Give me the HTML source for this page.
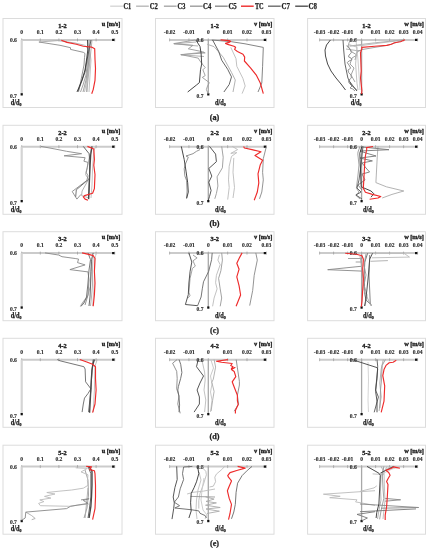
<!DOCTYPE html>
<html><head><meta charset="utf-8"><style>
html,body{margin:0;padding:0;background:#fff;}
svg{display:block;will-change:transform;}
text{font-family:"Liberation Serif",serif;fill:#222;stroke:#222;stroke-width:0.25px;}
.lg{font-size:7.5px;font-weight:bold;}
.tk{font-size:5.6px;font-weight:bold;text-anchor:middle;fill:#2a2a2a;stroke:#2a2a2a;stroke-width:0.12px;}
.yl{font-size:5.6px;font-weight:bold;text-anchor:end;fill:#2a2a2a;stroke:#2a2a2a;stroke-width:0.12px;}
.dl{font-size:7.2px;font-weight:bold;}
.sub{font-size:4.6px;}
.tt{font-size:6.3px;font-weight:bold;text-anchor:middle;stroke-width:0.35px;}
.un{font-size:6.3px;font-weight:bold;text-anchor:end;stroke-width:0.35px;}
.cap{font-size:8.2px;font-weight:bold;text-anchor:middle;}
</style></head><body>
<svg width="429" height="550" viewBox="0 0 429 550">
<rect x="0" y="0" width="429" height="550" fill="#fff"/>
<line x1="110.2" y1="6.2" x2="122.9" y2="6.2" stroke="#d6d6d6" stroke-width="1.4"/>
<text x="123.6" y="8.5" class="lg" textLength="7.6" lengthAdjust="spacingAndGlyphs">C1</text>
<line x1="136.1" y1="6.2" x2="148.79999999999998" y2="6.2" stroke="#b8b8b8" stroke-width="1.4"/>
<text x="149.8" y="8.5" class="lg" textLength="8.1" lengthAdjust="spacingAndGlyphs">C2</text>
<line x1="163.9" y1="6.2" x2="176.6" y2="6.2" stroke="#a8a8a8" stroke-width="1.4"/>
<text x="177.60000000000002" y="8.5" class="lg" textLength="7.8" lengthAdjust="spacingAndGlyphs">C3</text>
<line x1="190.0" y1="6.2" x2="202.7" y2="6.2" stroke="#9c9c9c" stroke-width="1.4"/>
<text x="203.10000000000002" y="8.5" class="lg" textLength="8.2" lengthAdjust="spacingAndGlyphs">C4</text>
<line x1="215.0" y1="6.2" x2="227.7" y2="6.2" stroke="#8c8c8c" stroke-width="1.4"/>
<text x="228.4" y="8.5" class="lg" textLength="8.4" lengthAdjust="spacingAndGlyphs">C5</text>
<line x1="241.0" y1="6.2" x2="253.7" y2="6.2" stroke="#ee2b2b" stroke-width="1.4"/>
<text x="254.9" y="8.5" class="lg" textLength="8.8" lengthAdjust="spacingAndGlyphs">TC</text>
<line x1="268.0" y1="6.2" x2="280.7" y2="6.2" stroke="#6a6a6a" stroke-width="1.4"/>
<text x="281.5" y="8.5" class="lg" textLength="8.4" lengthAdjust="spacingAndGlyphs">C7</text>
<line x1="295.2" y1="6.2" x2="307.9" y2="6.2" stroke="#505050" stroke-width="1.4"/>
<text x="308.5" y="8.5" class="lg" textLength="8.4" lengthAdjust="spacingAndGlyphs">C8</text>
<rect x="3.0" y="18.5" width="119.0" height="89.0" fill="none" stroke="#dcdcdc" stroke-width="1"/>
<line x1="21.70" y1="39.90" x2="114.70" y2="39.90" stroke="#cbcbcb" stroke-width="2"/>
<line x1="21.70" y1="38.40" x2="21.70" y2="41.40" stroke="#999" stroke-width="0.7"/>
<text x="21.70" y="34.10" class="tk">0</text>
<line x1="40.30" y1="38.40" x2="40.30" y2="41.40" stroke="#999" stroke-width="0.7"/>
<text x="40.30" y="34.10" class="tk">0.1</text>
<line x1="58.90" y1="38.40" x2="58.90" y2="41.40" stroke="#999" stroke-width="0.7"/>
<text x="58.90" y="34.10" class="tk">0.2</text>
<line x1="77.50" y1="38.40" x2="77.50" y2="41.40" stroke="#999" stroke-width="0.7"/>
<text x="77.50" y="34.10" class="tk">0.3</text>
<line x1="96.10" y1="38.40" x2="96.10" y2="41.40" stroke="#999" stroke-width="0.7"/>
<text x="96.10" y="34.10" class="tk">0.4</text>
<line x1="114.70" y1="38.40" x2="114.70" y2="41.40" stroke="#999" stroke-width="0.7"/>
<text x="114.70" y="34.10" class="tk">0.5</text>
<rect x="112.10" y="38.80" width="2.3" height="2.2" fill="#111"/>
<line x1="21.70" y1="39.90" x2="21.70" y2="94.20" stroke="#d4d4d4" stroke-width="2.2"/>
<rect x="20.60" y="93.20" width="2.2" height="2.3" fill="#111"/>
<text x="16.90" y="41.90" class="yl">0.6</text>
<text x="16.90" y="97.70" class="yl">0.7</text>
<text x="10.80" y="104.70" class="dl" textLength="10.8" lengthAdjust="spacingAndGlyphs">d/d<tspan class="sub" dy="1.0">0</tspan></text>
<text x="62.50" y="27.90" class="tt">1-2</text>
<text x="120.40" y="26.00" class="un">u [m/s]</text>
<polyline points="38.9,42 58,40.6 75,43 84.5,45.3 88,48 88.5,60 87.5,75 86.5,92" fill="none" stroke="#aaaaaa" stroke-width="0.9" stroke-linejoin="round"/>
<polyline points="89,40 88.5,50 87.5,62 86,75 83,85 80.5,92" fill="none" stroke="#9a9a9a" stroke-width="0.9" stroke-linejoin="round"/>
<polyline points="88,45 89.5,58 88.5,72 86,84 84.5,92" fill="none" stroke="#b5b5b5" stroke-width="0.9" stroke-linejoin="round"/>
<polyline points="89,45 91,60 90,75 89,92" fill="none" stroke="#bbbbbb" stroke-width="0.9" stroke-linejoin="round"/>
<polyline points="92,40 90.5,55 89,70 87.5,85 87,92" fill="none" stroke="#aaaaaa" stroke-width="0.9" stroke-linejoin="round"/>
<polyline points="38.9,42 60,45.3 70.5,47.7 70.5,49.4 83.3,52.3 85,53.5 84.5,57.6 84,65 82,75 80,85 78.5,92" fill="none" stroke="#8a8a8a" stroke-width="0.9" stroke-linejoin="round"/>
<polyline points="90,40 89,60 86,80 83,92" fill="none" stroke="#999999" stroke-width="0.9" stroke-linejoin="round"/>
<polyline points="91,40 89,50 87,60 85,72 80,86 78,91" fill="none" stroke="#555555" stroke-width="0.9" stroke-linejoin="round"/>
<polyline points="87.5,40 87.8,50 86.5,60 85,70 82,80 77,92" fill="none" stroke="#333333" stroke-width="0.9" stroke-linejoin="round"/>
<polyline points="61.3,40.2 67,42.4 76.3,44.2 83.3,46.3 91.5,47.1 94.7,48.8 95,59.3 95.5,68.6 95,80.3 93.2,89.6 91.7,93.7" fill="none" stroke="#ee2b2b" stroke-width="1.15" stroke-linejoin="round"/>
<rect x="155.5" y="18.5" width="118.5" height="89.0" fill="none" stroke="#dcdcdc" stroke-width="1"/>
<line x1="169.60" y1="39.90" x2="266.35" y2="39.90" stroke="#cbcbcb" stroke-width="2"/>
<line x1="169.60" y1="38.40" x2="169.60" y2="41.40" stroke="#999" stroke-width="0.7"/>
<text x="169.60" y="34.10" class="tk">-0.02</text>
<line x1="188.95" y1="38.40" x2="188.95" y2="41.40" stroke="#999" stroke-width="0.7"/>
<text x="188.95" y="34.10" class="tk">-0.01</text>
<line x1="208.30" y1="38.40" x2="208.30" y2="41.40" stroke="#999" stroke-width="0.7"/>
<text x="208.30" y="34.10" class="tk">0</text>
<line x1="227.65" y1="38.40" x2="227.65" y2="41.40" stroke="#999" stroke-width="0.7"/>
<text x="227.65" y="34.10" class="tk">0.01</text>
<line x1="247.00" y1="38.40" x2="247.00" y2="41.40" stroke="#999" stroke-width="0.7"/>
<text x="247.00" y="34.10" class="tk">0.02</text>
<line x1="266.35" y1="38.40" x2="266.35" y2="41.40" stroke="#999" stroke-width="0.7"/>
<text x="266.35" y="34.10" class="tk">0.03</text>
<rect x="263.75" y="38.80" width="2.3" height="2.2" fill="#111"/>
<line x1="208.30" y1="39.90" x2="208.30" y2="94.20" stroke="#a8a8a8" stroke-width="1.3"/>
<rect x="207.20" y="93.20" width="2.2" height="2.3" fill="#111"/>
<text x="203.50" y="41.90" class="yl">0.6</text>
<text x="203.50" y="97.70" class="yl">0.7</text>
<text x="215.00" y="104.70" class="dl" textLength="10.8" lengthAdjust="spacingAndGlyphs">d/d<tspan class="sub" dy="1.0">0</tspan></text>
<text x="214.75" y="27.90" class="tt">1-2</text>
<text x="272.40" y="26.00" class="un">v [m/s]</text>
<polyline points="196,42 174,43.8 198,46" fill="none" stroke="#aaaaaa" stroke-width="0.9" stroke-linejoin="round"/>
<polyline points="204,52 181,54.8 204,56.5" fill="none" stroke="#aaaaaa" stroke-width="0.9" stroke-linejoin="round"/>
<polyline points="230.8,47.4 236,58.7 236.8,66.3 242.9,78.4 245.2,86 242.1,93.6" fill="none" stroke="#bbbbbb" stroke-width="0.9" stroke-linejoin="round"/>
<polyline points="207.3,44.3 214,46.6 223.2,57.2 231.5,72.4 235.3,80 233,92" fill="none" stroke="#aaaaaa" stroke-width="0.9" stroke-linejoin="round"/>
<polyline points="195.3,40 173.7,43.6 193,45.3 188.3,48.8 200,51.2 205.2,52.9 180.7,54.6 198.2,58.1 200,61 202.3,64 205.2,67.5 202.9,69.8 205.2,75.6 202.3,77.4 209.3,82.6 207.5,86.1 206.4,89.6 208.3,94" fill="none" stroke="#999999" stroke-width="0.9" stroke-linejoin="round"/>
<polyline points="211.8,40 231.4,41.7 245,43.8 263.3,47.4 262.6,66.3 261.8,83 258,92" fill="none" stroke="#777777" stroke-width="0.9" stroke-linejoin="round"/>
<polyline points="212.6,40 218.6,51.2 221.7,60.2 227.7,69.3 231.5,76.9 229.2,84.5 223.9,92" fill="none" stroke="#555555" stroke-width="0.9" stroke-linejoin="round"/>
<polyline points="195.9,40.1 200,46.5 201.1,53.5 201.7,64 200.5,69.8 199.4,82.6 196.5,85 187.7,92" fill="none" stroke="#333333" stroke-width="0.9" stroke-linejoin="round"/>
<polyline points="220.6,39.9 229,40.6 230.7,41.3 229,42.4 225.5,43.4 226.9,44.1 233.9,46.2 235.6,47.3 234.6,49.4 237.4,51.5 243,54.3 244.7,57.1 244.4,61 250.5,67.8 256.5,75.4 260.3,83 263.3,93.6" fill="none" stroke="#ee2b2b" stroke-width="1.15" stroke-linejoin="round"/>
<rect x="307.6" y="18.5" width="117.9" height="89.0" fill="none" stroke="#dcdcdc" stroke-width="1"/>
<line x1="319.60" y1="39.90" x2="417.60" y2="39.90" stroke="#cbcbcb" stroke-width="2"/>
<line x1="319.60" y1="38.40" x2="319.60" y2="41.40" stroke="#999" stroke-width="0.7"/>
<text x="319.60" y="34.10" class="tk">-0.03</text>
<line x1="333.60" y1="38.40" x2="333.60" y2="41.40" stroke="#999" stroke-width="0.7"/>
<text x="333.60" y="34.10" class="tk">-0.02</text>
<line x1="347.60" y1="38.40" x2="347.60" y2="41.40" stroke="#999" stroke-width="0.7"/>
<text x="347.60" y="34.10" class="tk">-0.01</text>
<line x1="361.60" y1="38.40" x2="361.60" y2="41.40" stroke="#999" stroke-width="0.7"/>
<text x="361.60" y="34.10" class="tk">0</text>
<line x1="375.60" y1="38.40" x2="375.60" y2="41.40" stroke="#999" stroke-width="0.7"/>
<text x="375.60" y="34.10" class="tk">0.01</text>
<line x1="389.60" y1="38.40" x2="389.60" y2="41.40" stroke="#999" stroke-width="0.7"/>
<text x="389.60" y="34.10" class="tk">0.02</text>
<line x1="403.60" y1="38.40" x2="403.60" y2="41.40" stroke="#999" stroke-width="0.7"/>
<text x="403.60" y="34.10" class="tk">0.03</text>
<line x1="417.60" y1="38.40" x2="417.60" y2="41.40" stroke="#999" stroke-width="0.7"/>
<text x="417.60" y="34.10" class="tk">0.04</text>
<rect x="415.00" y="38.80" width="2.3" height="2.2" fill="#111"/>
<line x1="361.60" y1="39.90" x2="361.60" y2="94.20" stroke="#a8a8a8" stroke-width="1.3"/>
<rect x="360.50" y="93.20" width="2.2" height="2.3" fill="#111"/>
<text x="356.80" y="41.90" class="yl">0.6</text>
<text x="356.80" y="97.70" class="yl">0.7</text>
<text x="350.70" y="104.70" class="dl" textLength="10.8" lengthAdjust="spacingAndGlyphs">d/d<tspan class="sub" dy="1.0">0</tspan></text>
<text x="366.55" y="27.90" class="tt">1-2</text>
<text x="423.90" y="26.00" class="un">w [m/s]</text>
<polyline points="356,40 357,50 358,60 359,75 360,90" fill="none" stroke="#c8c8c8" stroke-width="0.9" stroke-linejoin="round"/>
<polyline points="347,46 362,45.5 380,43 404,40" fill="none" stroke="#bbbbbb" stroke-width="0.9" stroke-linejoin="round"/>
<polyline points="346,49 356,50.5 362,50.5" fill="none" stroke="#aaaaaa" stroke-width="0.9" stroke-linejoin="round"/>
<polyline points="350,40 348,46 352,52 357,55 352,58 350,64 354,68 351,75 355,82" fill="none" stroke="#999999" stroke-width="0.9" stroke-linejoin="round"/>
<polyline points="403.5,39.8 389.8,41.3 374.7,42.8 362.6,44.3 350,46" fill="none" stroke="#aaaaaa" stroke-width="0.9" stroke-linejoin="round"/>
<polyline points="404,40 388.3,45.1 361.8,49.6 357,52 355,60" fill="none" stroke="#999999" stroke-width="0.9" stroke-linejoin="round"/>
<polyline points="348.6,44.4 357,47.2 355.6,64 357,83.6 358,90" fill="none" stroke="#bbbbbb" stroke-width="0.9" stroke-linejoin="round"/>
<polyline points="346.5,45.8 350,49 351.4,52.8 349,55 348.6,57 351,58 352,59.8 349,61 347.2,62.6 349,65 350.7,68.2 348,70 348.6,72.4 351,75 351.4,78 349,80 348.6,82 350,84 352,86 350,88 352.8,89 355,91" fill="none" stroke="#888888" stroke-width="0.9" stroke-linejoin="round"/>
<polyline points="350,82 353,86 357,91" fill="none" stroke="#555555" stroke-width="0.9" stroke-linejoin="round"/>
<polyline points="343,40 343.7,50 345,64 347.9,78 351.4,85 357,90.5" fill="none" stroke="#555555" stroke-width="0.9" stroke-linejoin="round"/>
<polyline points="330.4,40 326.5,45 325,50 325.5,56 327.6,64 331,71 336,78 341,84 345.5,90" fill="none" stroke="#333333" stroke-width="0.9" stroke-linejoin="round"/>
<polyline points="405,39.8 400.5,41.8 394.4,42.8 391.4,44.3 386.8,45.4 374.7,46.3 361.8,47.4 361.9,48.6 360.5,52.8 361.2,71 360.5,78 361.9,90.5 361.6,94" fill="none" stroke="#ee2b2b" stroke-width="1.15" stroke-linejoin="round"/>
<text x="214.5" y="119.50" class="cap">(a)</text>
<rect x="3.0" y="125.3" width="119.0" height="89.0" fill="none" stroke="#dcdcdc" stroke-width="1"/>
<line x1="21.70" y1="146.70" x2="114.70" y2="146.70" stroke="#cbcbcb" stroke-width="2"/>
<line x1="21.70" y1="145.20" x2="21.70" y2="148.20" stroke="#999" stroke-width="0.7"/>
<text x="21.70" y="140.90" class="tk">0</text>
<line x1="40.30" y1="145.20" x2="40.30" y2="148.20" stroke="#999" stroke-width="0.7"/>
<text x="40.30" y="140.90" class="tk">0.1</text>
<line x1="58.90" y1="145.20" x2="58.90" y2="148.20" stroke="#999" stroke-width="0.7"/>
<text x="58.90" y="140.90" class="tk">0.2</text>
<line x1="77.50" y1="145.20" x2="77.50" y2="148.20" stroke="#999" stroke-width="0.7"/>
<text x="77.50" y="140.90" class="tk">0.3</text>
<line x1="96.10" y1="145.20" x2="96.10" y2="148.20" stroke="#999" stroke-width="0.7"/>
<text x="96.10" y="140.90" class="tk">0.4</text>
<line x1="114.70" y1="145.20" x2="114.70" y2="148.20" stroke="#999" stroke-width="0.7"/>
<text x="114.70" y="140.90" class="tk">0.5</text>
<rect x="112.10" y="145.60" width="2.3" height="2.2" fill="#111"/>
<line x1="21.70" y1="146.70" x2="21.70" y2="201.00" stroke="#d4d4d4" stroke-width="2.2"/>
<rect x="20.60" y="200.00" width="2.2" height="2.3" fill="#111"/>
<text x="16.90" y="148.70" class="yl">0.6</text>
<text x="16.90" y="204.50" class="yl">0.7</text>
<text x="10.80" y="211.50" class="dl" textLength="10.8" lengthAdjust="spacingAndGlyphs">d/d<tspan class="sub" dy="1.0">0</tspan></text>
<text x="62.50" y="134.70" class="tt">2-2</text>
<text x="120.40" y="132.80" class="un">u [m/s]</text>
<polyline points="96.1,146.4 93.8,150 92.5,170 92,185 91,198" fill="none" stroke="#bbbbbb" stroke-width="0.9" stroke-linejoin="round"/>
<polyline points="91.5,148 86.8,168.8 85.6,174.6 88.6,179.3 82.1,191 81.6,195.6 89.1,198" fill="none" stroke="#aaaaaa" stroke-width="0.9" stroke-linejoin="round"/>
<polyline points="41,146.4 55,149 66.6,151.3 81.6,153.7 64.1,155.8 85.1,157.7 83.9,161.2 88,162.4 87.4,167.6 86.2,172.3 88,175.8 86.8,180.5 72.2,191.5 76.9,199.1 81,194.4" fill="none" stroke="#8a8a8a" stroke-width="0.9" stroke-linejoin="round"/>
<polyline points="88.6,179.3 76.3,189.8 75.7,196.8" fill="none" stroke="#666666" stroke-width="0.9" stroke-linejoin="round"/>
<polyline points="83.3,146.4 89.1,153.7 89.7,160 89.5,175 89,190 88.5,199" fill="none" stroke="#555555" stroke-width="0.9" stroke-linejoin="round"/>
<polyline points="92,146.4 90.7,155 90.1,165.3 89.6,177 89.1,188.6 88.6,199.1" fill="none" stroke="#484848" stroke-width="1.35" stroke-linejoin="round"/>
<polyline points="87.4,146.4 93.8,149 94.4,159.5 93.8,165.3 95,174.6 94.4,188.6 92.6,193.3 84.5,195.6 83.3,196.8 85.1,199.1 88,200.3" fill="none" stroke="#ee2b2b" stroke-width="1.15" stroke-linejoin="round"/>
<rect x="155.5" y="125.3" width="118.5" height="89.0" fill="none" stroke="#dcdcdc" stroke-width="1"/>
<line x1="169.60" y1="146.70" x2="266.35" y2="146.70" stroke="#cbcbcb" stroke-width="2"/>
<line x1="169.60" y1="145.20" x2="169.60" y2="148.20" stroke="#999" stroke-width="0.7"/>
<text x="169.60" y="140.90" class="tk">-0.02</text>
<line x1="188.95" y1="145.20" x2="188.95" y2="148.20" stroke="#999" stroke-width="0.7"/>
<text x="188.95" y="140.90" class="tk">-0.01</text>
<line x1="208.30" y1="145.20" x2="208.30" y2="148.20" stroke="#999" stroke-width="0.7"/>
<text x="208.30" y="140.90" class="tk">0</text>
<line x1="227.65" y1="145.20" x2="227.65" y2="148.20" stroke="#999" stroke-width="0.7"/>
<text x="227.65" y="140.90" class="tk">0.01</text>
<line x1="247.00" y1="145.20" x2="247.00" y2="148.20" stroke="#999" stroke-width="0.7"/>
<text x="247.00" y="140.90" class="tk">0.02</text>
<line x1="266.35" y1="145.20" x2="266.35" y2="148.20" stroke="#999" stroke-width="0.7"/>
<text x="266.35" y="140.90" class="tk">0.03</text>
<rect x="263.75" y="145.60" width="2.3" height="2.2" fill="#111"/>
<line x1="208.30" y1="146.70" x2="208.30" y2="201.00" stroke="#a8a8a8" stroke-width="1.3"/>
<rect x="207.20" y="200.00" width="2.2" height="2.3" fill="#111"/>
<text x="203.50" y="148.70" class="yl">0.6</text>
<text x="203.50" y="204.50" class="yl">0.7</text>
<text x="215.00" y="211.50" class="dl" textLength="10.8" lengthAdjust="spacingAndGlyphs">d/d<tspan class="sub" dy="1.0">0</tspan></text>
<text x="214.75" y="134.70" class="tt">2-2</text>
<text x="272.40" y="132.80" class="un">v [m/s]</text>
<polyline points="232.3,146.4 237.6,149.6 230.8,153.4 236.8,152.6 231.5,156.4 229.2,166.2 228.5,179.9 229.2,187.5 227.7,199.6" fill="none" stroke="#bbbbbb" stroke-width="0.9" stroke-linejoin="round"/>
<polyline points="233.8,157.9 233,172.3 234.5,187.5 233,198" fill="none" stroke="#bbbbbb" stroke-width="0.9" stroke-linejoin="round"/>
<polyline points="221.7,146.4 223.2,157.2 222.4,167.8 217.1,176.8 217.9,186 216.4,193.5 214.8,198.8" fill="none" stroke="#999999" stroke-width="0.9" stroke-linejoin="round"/>
<polyline points="200,149.6 196.5,151.3 193,153.7 186,156 188.3,157.2 185.4,164.1 184.2,168.8 184.8,175.8 186.6,180.5 187.1,191 186.6,198" fill="none" stroke="#888888" stroke-width="0.9" stroke-linejoin="round"/>
<polyline points="266.4,146.4 263.3,158.7 262.6,172.3 263.3,179.9 261.8,192 259.5,198.8" fill="none" stroke="#888888" stroke-width="0.9" stroke-linejoin="round"/>
<polyline points="209.5,146.4 215.6,154.1 216.4,161.7 208.8,168.5 211.8,176.1 208.8,182.2 211.1,190.5 209.5,196.5 208.4,200" fill="none" stroke="#444444" stroke-width="0.9" stroke-linejoin="round"/>
<polyline points="181.3,146.4 184.2,159.5 186,171.1 187.7,182.8 188.3,192.1 186.6,198.5" fill="none" stroke="#333333" stroke-width="0.9" stroke-linejoin="round"/>
<polyline points="243.6,146.4 244.4,148 252,149.6 261,151.8 255,155.6 262.6,160.2 260.3,164.7 258,173.8 258.8,182.9 257.3,192 254.2,200.3" fill="none" stroke="#ee2b2b" stroke-width="1.15" stroke-linejoin="round"/>
<rect x="307.6" y="125.3" width="117.9" height="89.0" fill="none" stroke="#dcdcdc" stroke-width="1"/>
<line x1="319.60" y1="146.70" x2="417.60" y2="146.70" stroke="#cbcbcb" stroke-width="2"/>
<line x1="319.60" y1="145.20" x2="319.60" y2="148.20" stroke="#999" stroke-width="0.7"/>
<text x="319.60" y="140.90" class="tk">-0.03</text>
<line x1="333.60" y1="145.20" x2="333.60" y2="148.20" stroke="#999" stroke-width="0.7"/>
<text x="333.60" y="140.90" class="tk">-0.02</text>
<line x1="347.60" y1="145.20" x2="347.60" y2="148.20" stroke="#999" stroke-width="0.7"/>
<text x="347.60" y="140.90" class="tk">-0.01</text>
<line x1="361.60" y1="145.20" x2="361.60" y2="148.20" stroke="#999" stroke-width="0.7"/>
<text x="361.60" y="140.90" class="tk">0</text>
<line x1="375.60" y1="145.20" x2="375.60" y2="148.20" stroke="#999" stroke-width="0.7"/>
<text x="375.60" y="140.90" class="tk">0.01</text>
<line x1="389.60" y1="145.20" x2="389.60" y2="148.20" stroke="#999" stroke-width="0.7"/>
<text x="389.60" y="140.90" class="tk">0.02</text>
<line x1="403.60" y1="145.20" x2="403.60" y2="148.20" stroke="#999" stroke-width="0.7"/>
<text x="403.60" y="140.90" class="tk">0.03</text>
<line x1="417.60" y1="145.20" x2="417.60" y2="148.20" stroke="#999" stroke-width="0.7"/>
<text x="417.60" y="140.90" class="tk">0.04</text>
<rect x="415.00" y="145.60" width="2.3" height="2.2" fill="#111"/>
<line x1="361.60" y1="146.70" x2="361.60" y2="201.00" stroke="#a8a8a8" stroke-width="1.3"/>
<rect x="360.50" y="200.00" width="2.2" height="2.3" fill="#111"/>
<text x="356.80" y="148.70" class="yl">0.6</text>
<text x="356.80" y="204.50" class="yl">0.7</text>
<text x="363.00" y="211.50" class="dl" textLength="10.8" lengthAdjust="spacingAndGlyphs">d/d<tspan class="sub" dy="1.0">0</tspan></text>
<text x="366.55" y="134.70" class="tt">2-2</text>
<text x="423.90" y="132.80" class="un">w [m/s]</text>
<polyline points="378,146.4 377.3,156 375.9,182.6 386.4,186.8 403.8,191 392,194.4 382.2,198" fill="none" stroke="#aaaaaa" stroke-width="0.9" stroke-linejoin="round"/>
<polyline points="360,146.4 358,152 357.8,153.9 359,165 358,175 356.4,188.2 359,192 355.7,195.1 360,199" fill="none" stroke="#999999" stroke-width="0.9" stroke-linejoin="round"/>
<polyline points="362,147 389,149.7 360,151 366,153 376,156 360,158 372.4,160.9 362,163 366,168 369.6,172 362,174 365,180 358,185 362,190" fill="none" stroke="#777777" stroke-width="0.9" stroke-linejoin="round"/>
<polyline points="363,146.4 362,155 361,165 359,180 357,188 361,192 356,195 362,199" fill="none" stroke="#555555" stroke-width="0.9" stroke-linejoin="round"/>
<polyline points="361.9,146.4 359.8,153.2 360.5,170 361.2,186.8 371,191 373.8,193.7 371,197.2" fill="none" stroke="#333333" stroke-width="0.9" stroke-linejoin="round"/>
<polyline points="373,146.5 366.5,147.6 366.8,149 365.4,156 364.7,163 364,177 363.3,188.2 365.4,192.3 372.4,194.4 380.8,196.5 378,198 369.6,199.3" fill="none" stroke="#ee2b2b" stroke-width="1.15" stroke-linejoin="round"/>
<text x="214.5" y="226.30" class="cap">(b)</text>
<rect x="3.0" y="231.7" width="119.0" height="89.0" fill="none" stroke="#dcdcdc" stroke-width="1"/>
<line x1="21.70" y1="253.10" x2="114.70" y2="253.10" stroke="#cbcbcb" stroke-width="2"/>
<line x1="21.70" y1="251.60" x2="21.70" y2="254.60" stroke="#999" stroke-width="0.7"/>
<text x="21.70" y="247.30" class="tk">0</text>
<line x1="40.30" y1="251.60" x2="40.30" y2="254.60" stroke="#999" stroke-width="0.7"/>
<text x="40.30" y="247.30" class="tk">0.1</text>
<line x1="58.90" y1="251.60" x2="58.90" y2="254.60" stroke="#999" stroke-width="0.7"/>
<text x="58.90" y="247.30" class="tk">0.2</text>
<line x1="77.50" y1="251.60" x2="77.50" y2="254.60" stroke="#999" stroke-width="0.7"/>
<text x="77.50" y="247.30" class="tk">0.3</text>
<line x1="96.10" y1="251.60" x2="96.10" y2="254.60" stroke="#999" stroke-width="0.7"/>
<text x="96.10" y="247.30" class="tk">0.4</text>
<line x1="114.70" y1="251.60" x2="114.70" y2="254.60" stroke="#999" stroke-width="0.7"/>
<text x="114.70" y="247.30" class="tk">0.5</text>
<rect x="112.10" y="252.00" width="2.3" height="2.2" fill="#111"/>
<line x1="21.70" y1="253.10" x2="21.70" y2="307.40" stroke="#d4d4d4" stroke-width="2.2"/>
<rect x="20.60" y="306.40" width="2.2" height="2.3" fill="#111"/>
<text x="16.90" y="255.10" class="yl">0.6</text>
<text x="16.90" y="310.90" class="yl">0.7</text>
<text x="10.80" y="317.90" class="dl" textLength="10.8" lengthAdjust="spacingAndGlyphs">d/d<tspan class="sub" dy="1.0">0</tspan></text>
<text x="62.50" y="241.10" class="tt">3-2</text>
<text x="120.40" y="239.20" class="un">u [m/s]</text>
<polyline points="96.1,252.9 95,260 93.8,290 92.5,306" fill="none" stroke="#cccccc" stroke-width="0.9" stroke-linejoin="round"/>
<polyline points="91.5,262 90.3,286.5 87.4,297 81.6,304 80.4,306.3" fill="none" stroke="#aaaaaa" stroke-width="0.9" stroke-linejoin="round"/>
<polyline points="86.8,297 83.3,301.6 81,306.3" fill="none" stroke="#aaaaaa" stroke-width="0.9" stroke-linejoin="round"/>
<polyline points="45,252.9 58.5,255 62,256.7 75.2,258.5 78.6,259.1 77.5,262.6 85.1,264.9 69.9,269.6 88,271.9 89,280 88,295 85,305" fill="none" stroke="#888888" stroke-width="0.9" stroke-linejoin="round"/>
<polyline points="88,252.9 90.5,259.7 89,270 87.8,285 86.5,297 84,303 81,306.3" fill="none" stroke="#6a6a6a" stroke-width="0.9" stroke-linejoin="round"/>
<polyline points="93,256 92.5,270 92.5,285 91.5,297 90.5,306" fill="none" stroke="#aaaaaa" stroke-width="0.9" stroke-linejoin="round"/>
<polyline points="93.2,252.9 91.5,259.7 91,271.3 90.6,285 90,297 89,306" fill="none" stroke="#5a5a5a" stroke-width="0.9" stroke-linejoin="round"/>
<polyline points="82.1,252.9 88.6,254.4 93.2,255.6 95,258.5 94.4,271.3 95,283 94.4,294.6 93.2,306.3" fill="none" stroke="#ee2b2b" stroke-width="1.15" stroke-linejoin="round"/>
<rect x="155.5" y="231.7" width="118.5" height="89.0" fill="none" stroke="#dcdcdc" stroke-width="1"/>
<line x1="169.60" y1="253.10" x2="266.35" y2="253.10" stroke="#cbcbcb" stroke-width="2"/>
<line x1="169.60" y1="251.60" x2="169.60" y2="254.60" stroke="#999" stroke-width="0.7"/>
<text x="169.60" y="247.30" class="tk">-0.02</text>
<line x1="188.95" y1="251.60" x2="188.95" y2="254.60" stroke="#999" stroke-width="0.7"/>
<text x="188.95" y="247.30" class="tk">-0.01</text>
<line x1="208.30" y1="251.60" x2="208.30" y2="254.60" stroke="#999" stroke-width="0.7"/>
<text x="208.30" y="247.30" class="tk">0</text>
<line x1="227.65" y1="251.60" x2="227.65" y2="254.60" stroke="#999" stroke-width="0.7"/>
<text x="227.65" y="247.30" class="tk">0.01</text>
<line x1="247.00" y1="251.60" x2="247.00" y2="254.60" stroke="#999" stroke-width="0.7"/>
<text x="247.00" y="247.30" class="tk">0.02</text>
<line x1="266.35" y1="251.60" x2="266.35" y2="254.60" stroke="#999" stroke-width="0.7"/>
<text x="266.35" y="247.30" class="tk">0.03</text>
<rect x="263.75" y="252.00" width="2.3" height="2.2" fill="#111"/>
<line x1="208.30" y1="253.10" x2="208.30" y2="307.40" stroke="#a8a8a8" stroke-width="1.3"/>
<rect x="207.20" y="306.40" width="2.2" height="2.3" fill="#111"/>
<text x="203.50" y="255.10" class="yl">0.6</text>
<text x="203.50" y="310.90" class="yl">0.7</text>
<text x="215.00" y="317.90" class="dl" textLength="10.8" lengthAdjust="spacingAndGlyphs">d/d<tspan class="sub" dy="1.0">0</tspan></text>
<text x="214.75" y="241.10" class="tt">3-2</text>
<text x="272.40" y="239.20" class="un">v [m/s]</text>
<polyline points="219.4,254.8 217.9,260.1 220.2,264.7 216.4,275.3 215.6,282.8 217.1,288.9 214.1,298 212.6,306.3" fill="none" stroke="#bbbbbb" stroke-width="0.9" stroke-linejoin="round"/>
<polyline points="193,255 197.1,257.9 193,260.8 195.3,266.1 192.4,268.4 190.1,278.3 188.9,292.3 190.1,295.8 187.7,298.1" fill="none" stroke="#999999" stroke-width="0.9" stroke-linejoin="round"/>
<polyline points="221.7,252.9 222.4,260.1 220.9,270.7 218.6,278.3 220.2,288.9 221.7,298 220.2,306.3" fill="none" stroke="#999999" stroke-width="0.9" stroke-linejoin="round"/>
<polyline points="255.8,252.9 257.3,260.1 254.2,275.3 252.7,290.4 249.7,305.6" fill="none" stroke="#888888" stroke-width="0.9" stroke-linejoin="round"/>
<polyline points="212.2,252.9 211.6,259.7 208.7,271.3 203.5,281.8 202.3,288.8 201.1,297 197.6,305.7" fill="none" stroke="#666666" stroke-width="0.9" stroke-linejoin="round"/>
<polyline points="188.9,252.9 191.8,262 190.1,271.3 188.9,283 188.3,294.6 185.4,304.5 197.6,305.7" fill="none" stroke="#444444" stroke-width="0.9" stroke-linejoin="round"/>
<polyline points="242.1,252.9 239.8,257.1 236.8,263.2 239.1,269.2 236.8,276.8 239.1,285.9 240.6,295 236.1,306.3" fill="none" stroke="#ee2b2b" stroke-width="1.15" stroke-linejoin="round"/>
<rect x="307.6" y="231.7" width="117.9" height="89.0" fill="none" stroke="#dcdcdc" stroke-width="1"/>
<line x1="319.60" y1="253.10" x2="417.60" y2="253.10" stroke="#cbcbcb" stroke-width="2"/>
<line x1="319.60" y1="251.60" x2="319.60" y2="254.60" stroke="#999" stroke-width="0.7"/>
<text x="319.60" y="247.30" class="tk">-0.03</text>
<line x1="333.60" y1="251.60" x2="333.60" y2="254.60" stroke="#999" stroke-width="0.7"/>
<text x="333.60" y="247.30" class="tk">-0.02</text>
<line x1="347.60" y1="251.60" x2="347.60" y2="254.60" stroke="#999" stroke-width="0.7"/>
<text x="347.60" y="247.30" class="tk">-0.01</text>
<line x1="361.60" y1="251.60" x2="361.60" y2="254.60" stroke="#999" stroke-width="0.7"/>
<text x="361.60" y="247.30" class="tk">0</text>
<line x1="375.60" y1="251.60" x2="375.60" y2="254.60" stroke="#999" stroke-width="0.7"/>
<text x="375.60" y="247.30" class="tk">0.01</text>
<line x1="389.60" y1="251.60" x2="389.60" y2="254.60" stroke="#999" stroke-width="0.7"/>
<text x="389.60" y="247.30" class="tk">0.02</text>
<line x1="403.60" y1="251.60" x2="403.60" y2="254.60" stroke="#999" stroke-width="0.7"/>
<text x="403.60" y="247.30" class="tk">0.03</text>
<line x1="417.60" y1="251.60" x2="417.60" y2="254.60" stroke="#999" stroke-width="0.7"/>
<text x="417.60" y="247.30" class="tk">0.04</text>
<rect x="415.00" y="252.00" width="2.3" height="2.2" fill="#111"/>
<line x1="361.60" y1="253.10" x2="361.60" y2="307.40" stroke="#a8a8a8" stroke-width="1.3"/>
<rect x="360.50" y="306.40" width="2.2" height="2.3" fill="#111"/>
<text x="356.80" y="255.10" class="yl">0.6</text>
<text x="356.80" y="310.90" class="yl">0.7</text>
<text x="363.00" y="317.90" class="dl" textLength="10.8" lengthAdjust="spacingAndGlyphs">d/d<tspan class="sub" dy="1.0">0</tspan></text>
<text x="366.55" y="241.10" class="tt">3-2</text>
<text x="423.90" y="239.20" class="un">w [m/s]</text>
<polyline points="362,253.3 404,253.3 409.5,257.1 371.8,257.8" fill="none" stroke="#bbbbbb" stroke-width="0.9" stroke-linejoin="round"/>
<polyline points="370.4,261.3 387.9,260.6" fill="none" stroke="#aaaaaa" stroke-width="0.9" stroke-linejoin="round"/>
<polyline points="348,258.5 362,258.5" fill="none" stroke="#999999" stroke-width="0.9" stroke-linejoin="round"/>
<polyline points="355.7,262 362,262" fill="none" stroke="#999999" stroke-width="0.9" stroke-linejoin="round"/>
<polyline points="362,266.2 327.7,269.7 362,271.1" fill="none" stroke="#888888" stroke-width="0.9" stroke-linejoin="round"/>
<polyline points="369.7,255 369,276 369.7,290 370.3,304" fill="none" stroke="#777777" stroke-width="0.9" stroke-linejoin="round"/>
<polyline points="367.6,253.3 364.8,262 364.1,276 364.8,294.2 366,300 372,305.5" fill="none" stroke="#666666" stroke-width="0.9" stroke-linejoin="round"/>
<polyline points="366,254 364,265 366,275 364,285 367,295 365,306" fill="none" stroke="#999999" stroke-width="0.9" stroke-linejoin="round"/>
<polyline points="360,256 362,270 364,290 371,306" fill="none" stroke="#aaaaaa" stroke-width="0.9" stroke-linejoin="round"/>
<polyline points="372.5,253.3 369.7,259.2 368.3,276 366.9,290 365.5,301.1 364.5,306" fill="none" stroke="#444444" stroke-width="0.9" stroke-linejoin="round"/>
<polyline points="345.2,253.3 356.4,254.3 362,255.7 363.4,259.2 362.7,269 363.4,278.8 362.7,290 362,301.1 361.3,306.7" fill="none" stroke="#ee2b2b" stroke-width="1.15" stroke-linejoin="round"/>
<text x="214.5" y="332.70" class="cap">(c)</text>
<rect x="3.0" y="338.3" width="119.0" height="89.0" fill="none" stroke="#dcdcdc" stroke-width="1"/>
<line x1="21.70" y1="359.70" x2="114.70" y2="359.70" stroke="#cbcbcb" stroke-width="2"/>
<line x1="21.70" y1="358.20" x2="21.70" y2="361.20" stroke="#999" stroke-width="0.7"/>
<text x="21.70" y="353.90" class="tk">0</text>
<line x1="40.30" y1="358.20" x2="40.30" y2="361.20" stroke="#999" stroke-width="0.7"/>
<text x="40.30" y="353.90" class="tk">0.1</text>
<line x1="58.90" y1="358.20" x2="58.90" y2="361.20" stroke="#999" stroke-width="0.7"/>
<text x="58.90" y="353.90" class="tk">0.2</text>
<line x1="77.50" y1="358.20" x2="77.50" y2="361.20" stroke="#999" stroke-width="0.7"/>
<text x="77.50" y="353.90" class="tk">0.3</text>
<line x1="96.10" y1="358.20" x2="96.10" y2="361.20" stroke="#999" stroke-width="0.7"/>
<text x="96.10" y="353.90" class="tk">0.4</text>
<line x1="114.70" y1="358.20" x2="114.70" y2="361.20" stroke="#999" stroke-width="0.7"/>
<text x="114.70" y="353.90" class="tk">0.5</text>
<rect x="112.10" y="358.60" width="2.3" height="2.2" fill="#111"/>
<line x1="21.70" y1="359.70" x2="21.70" y2="414.00" stroke="#d4d4d4" stroke-width="2.2"/>
<rect x="20.60" y="413.00" width="2.2" height="2.3" fill="#111"/>
<text x="16.90" y="361.70" class="yl">0.6</text>
<text x="16.90" y="417.50" class="yl">0.7</text>
<text x="10.80" y="424.50" class="dl" textLength="10.8" lengthAdjust="spacingAndGlyphs">d/d<tspan class="sub" dy="1.0">0</tspan></text>
<text x="62.50" y="347.70" class="tt">4-2</text>
<text x="120.40" y="345.80" class="un">u [m/s]</text>
<polyline points="97.3,359.5 95,366 94.4,390 93.2,412" fill="none" stroke="#bbbbbb" stroke-width="0.9" stroke-linejoin="round"/>
<polyline points="57.3,359.5 60,360.8 83.9,366.7 85.1,369 85.6,381.8 90.9,388.8 88,393.5 84.5,398.1 83.3,404 82.1,412.1" fill="none" stroke="#666666" stroke-width="0.9" stroke-linejoin="round"/>
<polyline points="93.2,359.5 92,370 90.9,390 88.6,412.1" fill="none" stroke="#555555" stroke-width="0.9" stroke-linejoin="round"/>
<polyline points="94.4,359.5 93,364 92,370 91.3,380 90.8,390 90.3,400 89.6,412.7" fill="none" stroke="#484848" stroke-width="1.35" stroke-linejoin="round"/>
<polyline points="79.8,359.5 86.8,362 92.6,364.3 95.5,366.7 95.5,378.3 96.1,390 95,404 92.6,412.7" fill="none" stroke="#ee2b2b" stroke-width="1.15" stroke-linejoin="round"/>
<rect x="155.5" y="338.3" width="118.5" height="89.0" fill="none" stroke="#dcdcdc" stroke-width="1"/>
<line x1="169.60" y1="359.70" x2="266.35" y2="359.70" stroke="#cbcbcb" stroke-width="2"/>
<line x1="169.60" y1="358.20" x2="169.60" y2="361.20" stroke="#999" stroke-width="0.7"/>
<text x="169.60" y="353.90" class="tk">-0.02</text>
<line x1="188.95" y1="358.20" x2="188.95" y2="361.20" stroke="#999" stroke-width="0.7"/>
<text x="188.95" y="353.90" class="tk">-0.01</text>
<line x1="208.30" y1="358.20" x2="208.30" y2="361.20" stroke="#999" stroke-width="0.7"/>
<text x="208.30" y="353.90" class="tk">0</text>
<line x1="227.65" y1="358.20" x2="227.65" y2="361.20" stroke="#999" stroke-width="0.7"/>
<text x="227.65" y="353.90" class="tk">0.01</text>
<line x1="247.00" y1="358.20" x2="247.00" y2="361.20" stroke="#999" stroke-width="0.7"/>
<text x="247.00" y="353.90" class="tk">0.02</text>
<line x1="266.35" y1="358.20" x2="266.35" y2="361.20" stroke="#999" stroke-width="0.7"/>
<text x="266.35" y="353.90" class="tk">0.03</text>
<rect x="263.75" y="358.60" width="2.3" height="2.2" fill="#111"/>
<line x1="208.30" y1="359.70" x2="208.30" y2="414.00" stroke="#a8a8a8" stroke-width="1.3"/>
<rect x="207.20" y="413.00" width="2.2" height="2.3" fill="#111"/>
<text x="203.50" y="361.70" class="yl">0.6</text>
<text x="203.50" y="417.50" class="yl">0.7</text>
<text x="215.00" y="424.50" class="dl" textLength="10.8" lengthAdjust="spacingAndGlyphs">d/d<tspan class="sub" dy="1.0">0</tspan></text>
<text x="214.75" y="347.70" class="tt">4-2</text>
<text x="272.40" y="345.80" class="un">v [m/s]</text>
<polyline points="211,360 213.5,368 210.5,376 212,384 210.5,392 212,400 210.5,412" fill="none" stroke="#c4c4c4" stroke-width="0.9" stroke-linejoin="round"/>
<polyline points="202.3,362 204.6,372 205.2,380 204,390 205.8,400 204.6,412" fill="none" stroke="#bbbbbb" stroke-width="0.9" stroke-linejoin="round"/>
<polyline points="214.1,359.5 215.6,367.1 213.3,379.2 211.8,382.3 214.1,391.4 212.6,400.5 211.1,411" fill="none" stroke="#aaaaaa" stroke-width="0.9" stroke-linejoin="round"/>
<polyline points="177.2,359.5 172.6,363.2 176.7,371.3 177.2,378.3 176.7,388.8 179,395.8 177.8,404 180.2,413.3" fill="none" stroke="#888888" stroke-width="0.9" stroke-linejoin="round"/>
<polyline points="236.2,359.6 237.4,367.9 239.4,381.4 239.4,385 237.4,395.3 238.6,404 234.2,411.2" fill="none" stroke="#888888" stroke-width="0.9" stroke-linejoin="round"/>
<polyline points="179,359.5 180.7,364.3 181.9,372.5 180.7,378.3 178.4,386.5 177.8,390 179,397 179.6,405.1 179,412.1" fill="none" stroke="#666666" stroke-width="0.9" stroke-linejoin="round"/>
<polyline points="198.2,359.5 196.5,366.7 203.5,376 200,383 197.1,390 199.4,397 199.4,404 194.1,412.1" fill="none" stroke="#444444" stroke-width="0.9" stroke-linejoin="round"/>
<polyline points="227.9,359.6 216.4,361.2 221.5,362.3 232.2,363.5 230.7,365.5 233,366.7 231.4,368.7 235,367.5 231.4,369.5 234.2,371.5 235.8,376.6 232.2,381.8 233.4,385 237.4,395.3 237.4,400.9 238.2,404.4 235.4,410.4 235.4,413.6" fill="none" stroke="#ee2b2b" stroke-width="1.15" stroke-linejoin="round"/>
<rect x="307.6" y="338.3" width="117.9" height="89.0" fill="none" stroke="#dcdcdc" stroke-width="1"/>
<line x1="319.60" y1="359.70" x2="417.60" y2="359.70" stroke="#cbcbcb" stroke-width="2"/>
<line x1="319.60" y1="358.20" x2="319.60" y2="361.20" stroke="#999" stroke-width="0.7"/>
<text x="319.60" y="353.90" class="tk">-0.03</text>
<line x1="333.60" y1="358.20" x2="333.60" y2="361.20" stroke="#999" stroke-width="0.7"/>
<text x="333.60" y="353.90" class="tk">-0.02</text>
<line x1="347.60" y1="358.20" x2="347.60" y2="361.20" stroke="#999" stroke-width="0.7"/>
<text x="347.60" y="353.90" class="tk">-0.01</text>
<line x1="361.60" y1="358.20" x2="361.60" y2="361.20" stroke="#999" stroke-width="0.7"/>
<text x="361.60" y="353.90" class="tk">0</text>
<line x1="375.60" y1="358.20" x2="375.60" y2="361.20" stroke="#999" stroke-width="0.7"/>
<text x="375.60" y="353.90" class="tk">0.01</text>
<line x1="389.60" y1="358.20" x2="389.60" y2="361.20" stroke="#999" stroke-width="0.7"/>
<text x="389.60" y="353.90" class="tk">0.02</text>
<line x1="403.60" y1="358.20" x2="403.60" y2="361.20" stroke="#999" stroke-width="0.7"/>
<text x="403.60" y="353.90" class="tk">0.03</text>
<line x1="417.60" y1="358.20" x2="417.60" y2="361.20" stroke="#999" stroke-width="0.7"/>
<text x="417.60" y="353.90" class="tk">0.04</text>
<rect x="415.00" y="358.60" width="2.3" height="2.2" fill="#111"/>
<line x1="361.60" y1="359.70" x2="361.60" y2="414.00" stroke="#a8a8a8" stroke-width="1.3"/>
<rect x="360.50" y="413.00" width="2.2" height="2.3" fill="#111"/>
<text x="356.80" y="361.70" class="yl">0.6</text>
<text x="356.80" y="417.50" class="yl">0.7</text>
<text x="363.00" y="424.50" class="dl" textLength="10.8" lengthAdjust="spacingAndGlyphs">d/d<tspan class="sub" dy="1.0">0</tspan></text>
<text x="366.55" y="347.70" class="tt">4-2</text>
<text x="423.90" y="345.80" class="un">w [m/s]</text>
<polyline points="368,362 368.5,380 368,400 368.5,412" fill="none" stroke="#d0d0d0" stroke-width="0.9" stroke-linejoin="round"/>
<polyline points="383.3,359.5 381.2,369 379.8,383 381.2,397 379.1,411" fill="none" stroke="#aaaaaa" stroke-width="0.9" stroke-linejoin="round"/>
<polyline points="385.4,359.5 382.2,365.4 381.5,380 380.5,390 379.8,408.1" fill="none" stroke="#999999" stroke-width="0.9" stroke-linejoin="round"/>
<polyline points="377,359.5 377.7,366.2 377,378.8 375.6,390 378.4,397 374.2,412.3" fill="none" stroke="#555555" stroke-width="0.9" stroke-linejoin="round"/>
<polyline points="351.8,359.5 377,367.6 377.7,369 376.3,383 375.6,391.4 377,401.2 377,412.3" fill="none" stroke="#444444" stroke-width="0.9" stroke-linejoin="round"/>
<polyline points="396.3,360.3 393.1,362.2 389.2,362.8 386,365.4 384.1,369.2 382.8,375.6 384.7,385.8 384,401.2 381.2,412.3" fill="none" stroke="#ee2b2b" stroke-width="1.15" stroke-linejoin="round"/>
<text x="214.5" y="439.30" class="cap">(d)</text>
<rect x="3.0" y="445.2" width="119.0" height="89.0" fill="none" stroke="#dcdcdc" stroke-width="1"/>
<line x1="21.70" y1="466.60" x2="114.70" y2="466.60" stroke="#cbcbcb" stroke-width="2"/>
<line x1="21.70" y1="465.10" x2="21.70" y2="468.10" stroke="#999" stroke-width="0.7"/>
<text x="21.70" y="460.80" class="tk">0</text>
<line x1="40.30" y1="465.10" x2="40.30" y2="468.10" stroke="#999" stroke-width="0.7"/>
<text x="40.30" y="460.80" class="tk">0.1</text>
<line x1="58.90" y1="465.10" x2="58.90" y2="468.10" stroke="#999" stroke-width="0.7"/>
<text x="58.90" y="460.80" class="tk">0.2</text>
<line x1="77.50" y1="465.10" x2="77.50" y2="468.10" stroke="#999" stroke-width="0.7"/>
<text x="77.50" y="460.80" class="tk">0.3</text>
<line x1="96.10" y1="465.10" x2="96.10" y2="468.10" stroke="#999" stroke-width="0.7"/>
<text x="96.10" y="460.80" class="tk">0.4</text>
<line x1="114.70" y1="465.10" x2="114.70" y2="468.10" stroke="#999" stroke-width="0.7"/>
<text x="114.70" y="460.80" class="tk">0.5</text>
<rect x="112.10" y="465.50" width="2.3" height="2.2" fill="#111"/>
<line x1="21.70" y1="466.60" x2="21.70" y2="520.90" stroke="#d4d4d4" stroke-width="2.2"/>
<rect x="20.60" y="519.90" width="2.2" height="2.3" fill="#111"/>
<text x="16.90" y="468.60" class="yl">0.6</text>
<text x="16.90" y="524.40" class="yl">0.7</text>
<text x="10.80" y="531.40" class="dl" textLength="10.8" lengthAdjust="spacingAndGlyphs">d/d<tspan class="sub" dy="1.0">0</tspan></text>
<text x="62.50" y="454.60" class="tt">5-2</text>
<text x="120.40" y="452.70" class="un">u [m/s]</text>
<polyline points="85,470 88,480 88.5,495 87,508 84,518" fill="none" stroke="#999999" stroke-width="0.9" stroke-linejoin="round"/>
<polyline points="75.7,467.8 87.4,468.4 81,471.9 88,474.8 87.4,480.6 88,485.3 83.3,488.2 71.7,490 60,491.1 46.8,492.5 55,494 44.5,496.4 50.9,498.1 39.8,499.9 43.9,501.6 38.6,503.4 40.4,505.7 70,506.3 77.5,505.1 89.1,504" fill="none" stroke="#bbbbbb" stroke-width="0.9" stroke-linejoin="round"/>
<polyline points="25.8,512.1 31.7,515.6 35.2,518.5 31.7,519.7" fill="none" stroke="#aaaaaa" stroke-width="0.9" stroke-linejoin="round"/>
<polyline points="88,488 85.1,518" fill="none" stroke="#aaaaaa" stroke-width="0.9" stroke-linejoin="round"/>
<polyline points="81,499.9 89.1,498.7 83.3,500.5 88,503.4 70.5,506.3 66.6,508.6 25.8,512.1 25.2,518 21.7,520.3" fill="none" stroke="#888888" stroke-width="0.9" stroke-linejoin="round"/>
<polyline points="88,466.4 90.9,473.7 90.9,497 89.1,511 88,518" fill="none" stroke="#555555" stroke-width="0.9" stroke-linejoin="round"/>
<polyline points="89.1,466.4 92,471.3 92,485.3 91.5,497 90.9,506.3 89.1,518" fill="none" stroke="#484848" stroke-width="1.35" stroke-linejoin="round"/>
<polyline points="86.2,466.4 91.5,466.7 89.7,469.6 94.4,470.7 95,473.7 95.5,485.3 95.5,497 95,508.6 92.6,519.7" fill="none" stroke="#ee2b2b" stroke-width="1.15" stroke-linejoin="round"/>
<rect x="155.5" y="445.2" width="118.5" height="89.0" fill="none" stroke="#dcdcdc" stroke-width="1"/>
<line x1="169.60" y1="466.60" x2="266.35" y2="466.60" stroke="#cbcbcb" stroke-width="2"/>
<line x1="169.60" y1="465.10" x2="169.60" y2="468.10" stroke="#999" stroke-width="0.7"/>
<text x="169.60" y="460.80" class="tk">-0.02</text>
<line x1="188.95" y1="465.10" x2="188.95" y2="468.10" stroke="#999" stroke-width="0.7"/>
<text x="188.95" y="460.80" class="tk">-0.01</text>
<line x1="208.30" y1="465.10" x2="208.30" y2="468.10" stroke="#999" stroke-width="0.7"/>
<text x="208.30" y="460.80" class="tk">0</text>
<line x1="227.65" y1="465.10" x2="227.65" y2="468.10" stroke="#999" stroke-width="0.7"/>
<text x="227.65" y="460.80" class="tk">0.01</text>
<line x1="247.00" y1="465.10" x2="247.00" y2="468.10" stroke="#999" stroke-width="0.7"/>
<text x="247.00" y="460.80" class="tk">0.02</text>
<line x1="266.35" y1="465.10" x2="266.35" y2="468.10" stroke="#999" stroke-width="0.7"/>
<text x="266.35" y="460.80" class="tk">0.03</text>
<rect x="263.75" y="465.50" width="2.3" height="2.2" fill="#111"/>
<line x1="208.30" y1="466.60" x2="208.30" y2="520.90" stroke="#a8a8a8" stroke-width="1.3"/>
<rect x="207.20" y="519.90" width="2.2" height="2.3" fill="#111"/>
<text x="203.50" y="468.60" class="yl">0.6</text>
<text x="203.50" y="524.40" class="yl">0.7</text>
<text x="215.00" y="531.40" class="dl" textLength="10.8" lengthAdjust="spacingAndGlyphs">d/d<tspan class="sub" dy="1.0">0</tspan></text>
<text x="214.75" y="454.60" class="tt">5-2</text>
<text x="272.40" y="452.70" class="un">v [m/s]</text>
<polyline points="201.1,466.4 205.8,471.3 206.4,474.8 203.5,484.1 200,493.5 198.8,500.5 198.8,508.6" fill="none" stroke="#bbbbbb" stroke-width="0.9" stroke-linejoin="round"/>
<polyline points="187.1,494 193,492.3 203.5,491.1 215,489" fill="none" stroke="#bbbbbb" stroke-width="0.9" stroke-linejoin="round"/>
<polyline points="224.7,466.4 221.7,469.6 216.4,474.1 214.8,477.2 215.6,481.7 213.3,486.2 209.5,487" fill="none" stroke="#bbbbbb" stroke-width="0.9" stroke-linejoin="round"/>
<polyline points="205.5,496.8 214.1,499.1 206,501.4 216.4,502.9 205.5,505.2 220.2,507.5 206,509 219.4,511.2 207,513.5" fill="none" stroke="#aaaaaa" stroke-width="0.9" stroke-linejoin="round"/>
<polyline points="199,472 201,480 198,490 196.5,500 196,510 197,519" fill="none" stroke="#c0c0c0" stroke-width="0.9" stroke-linejoin="round"/>
<polyline points="204,478 202,490 201,500 203,510 207,515 205,519" fill="none" stroke="#c8c8c8" stroke-width="0.9" stroke-linejoin="round"/>
<polyline points="190.6,496.4 215,497" fill="none" stroke="#999999" stroke-width="0.9" stroke-linejoin="round"/>
<polyline points="192.4,466.4 183.6,467 182.5,473.7 183.6,479.5 180.2,488.8 178.4,497 174.3,502.2 179.6,505.7 174.9,508 191.8,509.8 198.8,510.9 200,513.3 205.2,515.6 206.4,518" fill="none" stroke="#666666" stroke-width="0.9" stroke-linejoin="round"/>
<polyline points="252,466.4 247.4,470.3 242.1,475.6 237.6,483.2 236.1,492.3 235.3,504.4 233.8,512 231.5,518.8" fill="none" stroke="#666666" stroke-width="0.9" stroke-linejoin="round"/>
<polyline points="176.7,466.4 177.2,479.5 174.9,487.6 173.2,497 174.3,502.8 173.7,508.6 172,519.1" fill="none" stroke="#444444" stroke-width="0.9" stroke-linejoin="round"/>
<polyline points="197.6,466.4 198.8,473.7 196.5,481.8 194.1,487.6 191.2,493.5 190.6,502.8 191.2,511 188.9,518" fill="none" stroke="#333333" stroke-width="0.9" stroke-linejoin="round"/>
<polyline points="237.6,466.4 245.2,468.1 237.6,470.3 230,472.6 227.7,475.6 228.5,477.2 231.5,480.9 229.2,486.2 227.4,490.8 229.2,498.4 231.5,504.4 230,513.5 228.5,519.6" fill="none" stroke="#ee2b2b" stroke-width="1.15" stroke-linejoin="round"/>
<rect x="307.6" y="445.2" width="117.9" height="89.0" fill="none" stroke="#dcdcdc" stroke-width="1"/>
<line x1="319.60" y1="466.60" x2="417.60" y2="466.60" stroke="#cbcbcb" stroke-width="2"/>
<line x1="319.60" y1="465.10" x2="319.60" y2="468.10" stroke="#999" stroke-width="0.7"/>
<text x="319.60" y="460.80" class="tk">-0.03</text>
<line x1="333.60" y1="465.10" x2="333.60" y2="468.10" stroke="#999" stroke-width="0.7"/>
<text x="333.60" y="460.80" class="tk">-0.02</text>
<line x1="347.60" y1="465.10" x2="347.60" y2="468.10" stroke="#999" stroke-width="0.7"/>
<text x="347.60" y="460.80" class="tk">-0.01</text>
<line x1="361.60" y1="465.10" x2="361.60" y2="468.10" stroke="#999" stroke-width="0.7"/>
<text x="361.60" y="460.80" class="tk">0</text>
<line x1="375.60" y1="465.10" x2="375.60" y2="468.10" stroke="#999" stroke-width="0.7"/>
<text x="375.60" y="460.80" class="tk">0.01</text>
<line x1="389.60" y1="465.10" x2="389.60" y2="468.10" stroke="#999" stroke-width="0.7"/>
<text x="389.60" y="460.80" class="tk">0.02</text>
<line x1="403.60" y1="465.10" x2="403.60" y2="468.10" stroke="#999" stroke-width="0.7"/>
<text x="403.60" y="460.80" class="tk">0.03</text>
<line x1="417.60" y1="465.10" x2="417.60" y2="468.10" stroke="#999" stroke-width="0.7"/>
<text x="417.60" y="460.80" class="tk">0.04</text>
<rect x="415.00" y="465.50" width="2.3" height="2.2" fill="#111"/>
<line x1="361.60" y1="466.60" x2="361.60" y2="520.90" stroke="#a8a8a8" stroke-width="1.3"/>
<rect x="360.50" y="519.90" width="2.2" height="2.3" fill="#111"/>
<text x="356.80" y="468.60" class="yl">0.6</text>
<text x="356.80" y="524.40" class="yl">0.7</text>
<text x="363.00" y="531.40" class="dl" textLength="10.8" lengthAdjust="spacingAndGlyphs">d/d<tspan class="sub" dy="1.0">0</tspan></text>
<text x="366.55" y="454.60" class="tt">5-2</text>
<text x="423.90" y="452.70" class="un">w [m/s]</text>
<polyline points="381,473 388,468 395,466.4" fill="none" stroke="#bbbbbb" stroke-width="0.9" stroke-linejoin="round"/>
<polyline points="382,474 392,469 400,467" fill="none" stroke="#cccccc" stroke-width="0.9" stroke-linejoin="round"/>
<polyline points="381,466.4 383,470 381,476 380.5,490 381,500 379,510 377.5,519" fill="none" stroke="#aaaaaa" stroke-width="0.9" stroke-linejoin="round"/>
<polyline points="387,466.4 384,472 384.5,490 385,500 383,519" fill="none" stroke="#bbbbbb" stroke-width="0.9" stroke-linejoin="round"/>
<polyline points="375,490.7 323.4,494.2 340.2,496.3 329.7,497.7 357,499.8 355.6,501.9 375,505.4" fill="none" stroke="#bbbbbb" stroke-width="0.9" stroke-linejoin="round"/>
<polyline points="372.6,473.9 383.8,474.6" fill="none" stroke="#bbbbbb" stroke-width="0.9" stroke-linejoin="round"/>
<polyline points="376.8,485.8 374,487.9 360,491.4" fill="none" stroke="#bbbbbb" stroke-width="0.9" stroke-linejoin="round"/>
<polyline points="383.8,466.4 382.4,476 383.1,490 383.8,498.4 381,511 379.6,519.3" fill="none" stroke="#999999" stroke-width="0.9" stroke-linejoin="round"/>
<polyline points="385.2,498.4 400.6,499.8 385.2,501.2" fill="none" stroke="#888888" stroke-width="0.9" stroke-linejoin="round"/>
<polyline points="360,504 418.7,507.5 381,508.2" fill="none" stroke="#888888" stroke-width="0.9" stroke-linejoin="round"/>
<polyline points="360,511.7 416,508.9" fill="none" stroke="#777777" stroke-width="0.9" stroke-linejoin="round"/>
<polyline points="375,511.7 357,514.4 361.2,515.8 367.4,518 361.6,520.9" fill="none" stroke="#777777" stroke-width="0.9" stroke-linejoin="round"/>
<polyline points="393.6,466.4 380.3,473.2" fill="none" stroke="#444444" stroke-width="0.9" stroke-linejoin="round"/>
<polyline points="367,466.4 378.9,473.2 380.3,475.3 379.6,490 378.9,504 376.8,512.3 376.1,518" fill="none" stroke="#333333" stroke-width="0.9" stroke-linejoin="round"/>
<polyline points="399.9,468.3 397,467.6 393.6,466.9 391.5,468.3 385.9,470.4 388.7,472.5 390.1,475.3 388,478.8 386.6,481.6 388,484.4 387.3,497 386.6,506.8 385.2,515.1 385.2,520" fill="none" stroke="#ee2b2b" stroke-width="1.15" stroke-linejoin="round"/>
<text x="214.5" y="546.20" class="cap">(e)</text>
</svg>
</body></html>
